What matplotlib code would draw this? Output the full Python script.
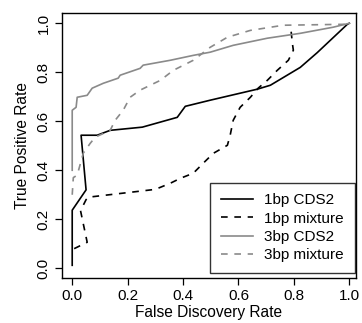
import matplotlib
matplotlib.use("Agg")
import matplotlib.pyplot as plt

plt.rcParams['font.family'] = ['Liberation Sans', 'DejaVu Sans']

# 1bp CDS2 (black solid)
cds1_x = [0.0, 0.0, 0.05, 0.032, 0.09, 0.137, 0.253, 0.379, 0.408, 0.498, 0.668, 0.715, 0.823, 0.884, 0.993, 1.0]
cds1_y = [0.012, 0.237, 0.32, 0.543, 0.543, 0.563, 0.576, 0.616, 0.661, 0.686, 0.731, 0.747, 0.82, 0.88, 0.996, 1.0]

# 1bp mixture (black dashed)
mix1_x = [0.007, 0.054, 0.03, 0.05, 0.058, 0.30, 0.354, 0.39, 0.437, 0.473, 0.509, 0.56, 0.57, 0.581, 0.606, 0.643, 0.671, 0.704, 0.74, 0.78, 0.798, 0.794, 0.79]
mix1_y = [0.08, 0.106, 0.235, 0.28, 0.29, 0.322, 0.347, 0.367, 0.388, 0.429, 0.469, 0.502, 0.543, 0.604, 0.657, 0.698, 0.735, 0.767, 0.808, 0.849, 0.89, 0.922, 0.967]

# 3bp CDS2 (grey solid)
cds3_x = [0.0, 0.0, 0.014, 0.018, 0.054, 0.072, 0.112, 0.166, 0.173, 0.245, 0.256, 0.354, 0.437, 0.498, 0.581, 0.704, 0.823, 0.942, 1.0]
cds3_y = [0.40, 0.645, 0.657, 0.698, 0.706, 0.735, 0.755, 0.776, 0.788, 0.816, 0.829, 0.849, 0.869, 0.882, 0.910, 0.939, 0.959, 0.984, 1.0]

# 3bp mixture (grey dashed)
mix3_x = [0.0, 0.004, 0.018, 0.04, 0.065, 0.083, 0.137, 0.155, 0.184, 0.209, 0.245, 0.318, 0.365, 0.437, 0.498, 0.56, 0.643, 0.762, 0.993, 1.0]
mix3_y = [0.30, 0.37, 0.38, 0.47, 0.51, 0.535, 0.563, 0.604, 0.645, 0.698, 0.727, 0.767, 0.808, 0.849, 0.902, 0.943, 0.971, 0.992, 0.996, 1.0]

labels = ["1bp CDS2", "1bp mixture", "3bp CDS2", "3bp mixture"]
ticks = [0.0, 0.2, 0.4, 0.6, 0.8, 1.0]
tick_labels = ["0.0", "0.2", "0.4", "0.6", "0.8", "1.0"]

fig = plt.figure(figsize=(3.62, 3.23), dpi=100)
ax = fig.add_axes([0.1704, 0.1384, 0.8122, 0.8214])

grey = '#8a8a8a'
lw = 1.2
ax.plot(cds1_x, cds1_y, color='black', lw=lw, label=labels[0])
ax.plot(mix1_x, mix1_y, color='black', lw=lw, dashes=(4, 4), label=labels[1])
ax.plot(cds3_x, cds3_y, color=grey, lw=lw, label=labels[2])
ax.plot(mix3_x, mix3_y, color=grey, lw=lw, dashes=(4, 4), label=labels[3])

ax.set_xlim(-0.038, 1.023)
ax.set_ylim(-0.041, 1.042)
ax.set_xticks(ticks)
ax.set_xticklabels(tick_labels)
ax.set_yticks(ticks)
ax.set_yticklabels(tick_labels, rotation=90, va='center')
ax.tick_params(direction='out', length=5, width=0.9, labelsize=11, pad=3, color='black')
for s in ax.spines.values():
    s.set_linewidth(1.0)
    s.set_color('black')

ax.set_xlabel("False Discovery Rate", fontsize=11.2, labelpad=1)
ax.set_ylabel("True Positive Rate", fontsize=11.2, labelpad=5)

leg = ax.legend(loc='lower right', bbox_to_anchor=(0.997, 0.02), borderaxespad=0,
                fontsize=11, frameon=True, fancybox=False, edgecolor='black',
                handlelength=2.1, handletextpad=0.75, labelspacing=0.28,
                borderpad=0.7)
leg.get_frame().set_linewidth(1.0)

fig.savefig("out.png", dpi=100)
